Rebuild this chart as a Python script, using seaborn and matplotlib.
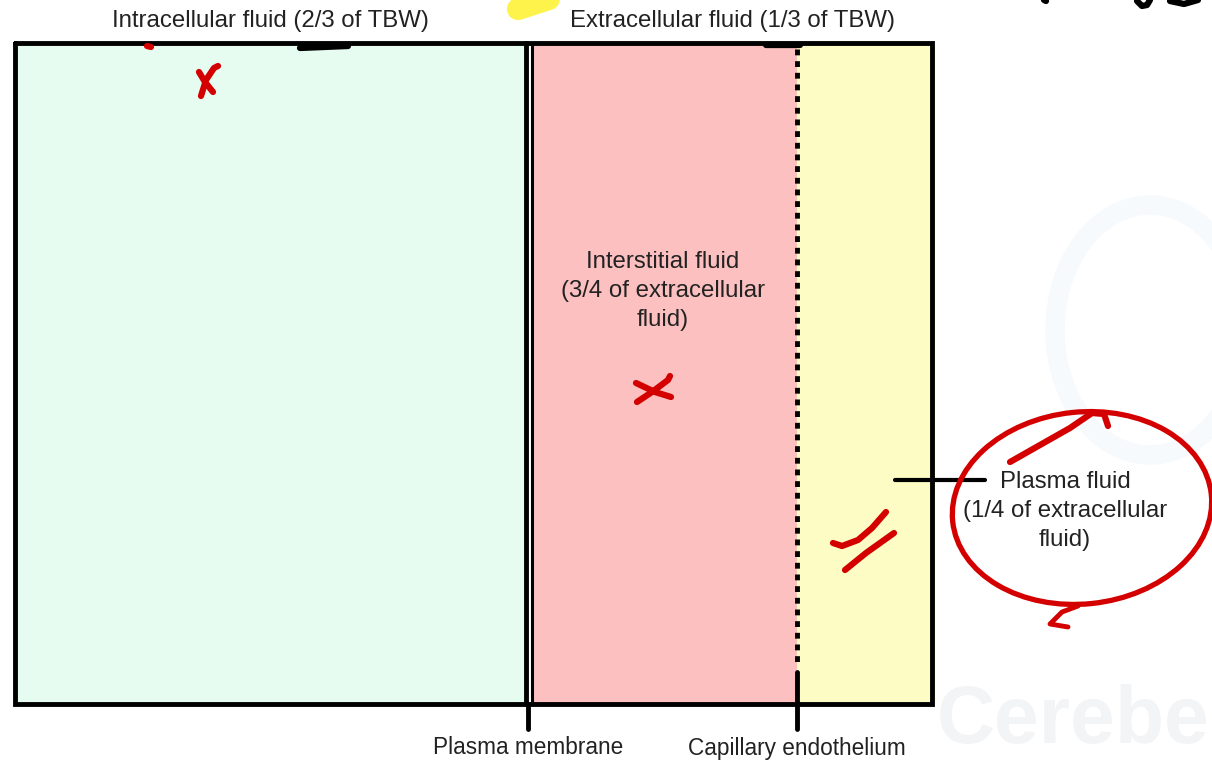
import matplotlib
matplotlib.use("Agg")
import matplotlib.pyplot as plt
import seaborn as sns
from matplotlib.patches import Ellipse

# compartments of total body water (diagram is not drawn to scale)
compartments = ["Intracellular", "Interstitial", "Plasma"]
fractions = ["2/3 of TBW", "3/4 of extracellular fluid", "1/4 of extracellular fluid"]
comp_left = [15, 533, 797]
comp_width = [512, 264, 135]
comp_colors = ["#e6fcf1", "#fcc0c0", "#fdfcc4"]

top_labels = ["Intracellular fluid (2/3 of TBW)", "Extracellular fluid (1/3 of TBW)"]
top_label_x = [270, 733]
boundaries = ["Plasma membrane", "Capillary endothelium"]
boundary_x = [528, 797]

box_top, box_bottom = 43, 704

sns.set_theme(style="white")
plt.rcParams["font.family"] = ["Liberation Sans", "DejaVu Sans"]

fig = plt.figure(figsize=(12.12, 7.61), dpi=100)
ax = fig.add_axes([0, 0, 1, 1])
ax.set_xlim(0, 1212)
ax.set_ylim(761, 0)
ax.axis("off")

# faint watermark
ax.text(1210, 760, "Cerebe", fontsize=58, fontweight="bold", color="#f3f4f6",
        ha="right", va="bottom", zorder=0)
ax.add_patch(Ellipse((1150, 330), 190, 250, fill=False, lw=14, ec="#f6fafd", zorder=0))

# compartments as bars
ax.bar(comp_left, box_bottom - box_top, width=comp_width, bottom=box_top,
       align="edge", color=comp_colors, edgecolor="none", zorder=1)

# outer box
ax.plot([15, 932, 932, 15, 15], [box_top, box_top, box_bottom, box_bottom, box_top],
        color="black", lw=3.5, solid_joinstyle="miter", zorder=3)

# plasma membrane (double line) and its tick below
ax.plot([boundary_x[0] - 2, boundary_x[0] - 2], [box_top, box_bottom], color="black", lw=3.5, zorder=3)
ax.plot([boundary_x[0] + 4, boundary_x[0] + 4], [box_top, box_bottom], color="black", lw=2.2, zorder=3)
ax.plot([boundary_x[0], boundary_x[0]], [box_bottom, 729], color="black", lw=3.5, zorder=3)

# capillary endothelium (dotted) and its tick below
ax.plot([boundary_x[1], boundary_x[1]], [box_top + 6, 662], color="black", lw=3.5,
        linestyle=(0, (1.2, 1.2)), zorder=3)
ax.plot([boundary_x[1], boundary_x[1]], [672, 729], color="black", lw=3.5, zorder=3)

# plasma fluid pointer
ax.plot([895, 985], [480, 480], color="black", lw=3, zorder=3)

fs = 17.3
for lab, x in zip(top_labels, top_label_x):
    ax.text(x, 21, lab, fontsize=fs, ha="center", va="center", color="#222222", zorder=4)
for lab, x in zip(boundaries, boundary_x):
    ax.text(x, 748, lab, fontsize=fs - 1, ha="center", va="center", color="#222222", zorder=4)

ax.text(663, 291, "Interstitial fluid\n(" + fractions[1].replace(" fluid", "\nfluid") + ")",
        fontsize=fs, ha="center", va="center", color="#222222", linespacing=1.42, zorder=4)
ax.text(1065, 511, "Plasma fluid\n(" + fractions[2].replace(" fluid", "\nfluid") + ")",
        fontsize=fs, ha="center", va="center", color="#222222", linespacing=1.42, zorder=4)

# handwritten annotations
red = "#d40000"
kw = dict(color=red, lw=4.5, solid_capstyle="round", zorder=5)
ax.plot([201, 206, 214, 218], [96, 80, 68, 66], **kw)
ax.plot([199, 205, 213], [72, 82, 92], **kw)
ax.plot([637, 652, 668, 670], [402, 392, 380, 376], **kw)
ax.plot([636, 655, 671], [383, 392, 397], **kw)
ax.plot([147, 151], [46, 47], **kw)
ax.add_patch(Ellipse((1082, 508), 260, 192, angle=-6, fill=False, ec=red, lw=3.8, zorder=5))
ax.plot([1010, 1040, 1070, 1092, 1104, 1108], [462, 445, 428, 413, 414, 426], **kw)
ax.plot([833, 842, 858, 872, 886], [543, 546, 540, 528, 512], **kw)
ax.plot([845, 866, 894], [570, 553, 533], **kw)
ax.plot([1078, 1062, 1050, 1068], [606, 612, 624, 627], color=red, lw=3.5,
        solid_capstyle="round", zorder=5)

# pen marks in black
pen = dict(color="black", lw=4.5, solid_capstyle="round", zorder=5)
ax.plot([300, 348], [48, 46], **pen)
ax.plot([766, 800], [45, 45], **pen)
ax.plot([1044, 1046], [0, 1], **pen)
ax.plot([1137, 1142, 1147, 1150], [1, 6, 5, 0], **pen)
ax.plot([1170, 1184, 1198], [1, 4, 0], **pen)

# yellow highlighter at top
ax.plot([518, 555], [9, -3], color="#fdf34a", lw=16, solid_capstyle="round", zorder=2)

fig.savefig("out.png", dpi=100)
